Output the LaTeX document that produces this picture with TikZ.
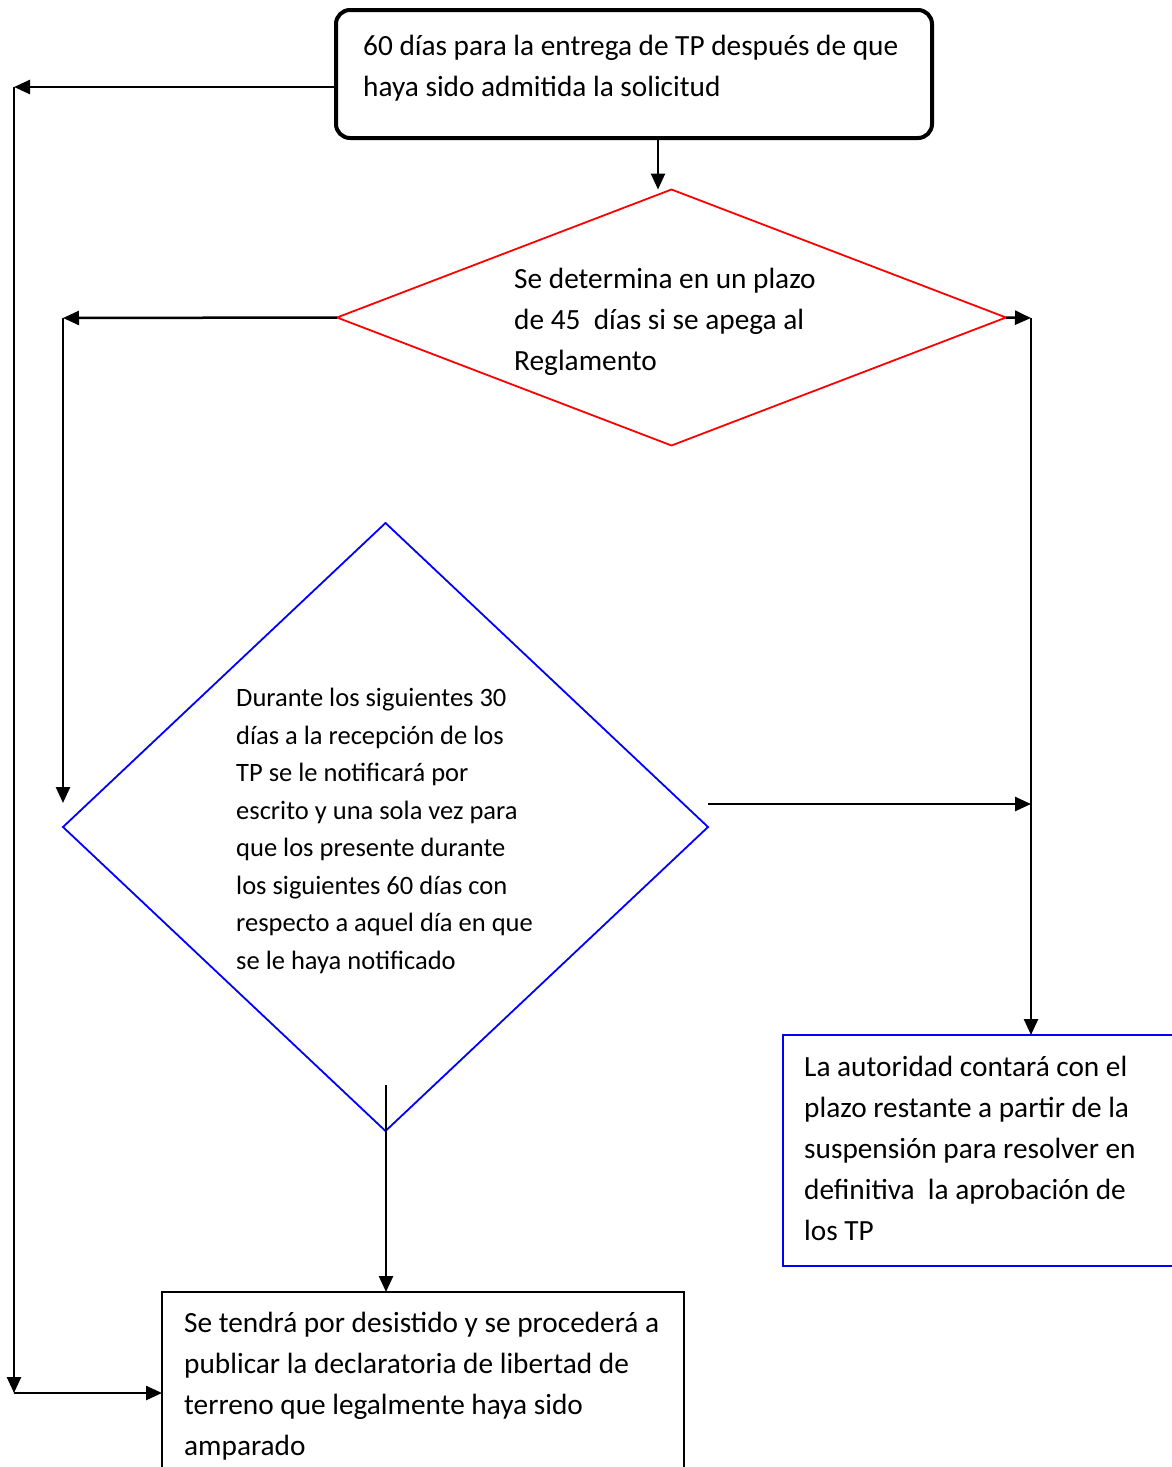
\documentclass[tikz,border=0pt]{standalone}
\usepackage{fontspec}
\setmainfont{Carlito}
\usetikzlibrary{arrows.meta,shapes.geometric}
\begin{document}
\begin{tikzpicture}[x=1pt,y=-1pt,
  arr/.style={line width=2.5pt,-{Triangle[length=16pt,width=14pt]}},
  boxshape/.style={draw,rectangle,inner sep=0pt,outer sep=0pt},
  decshape/.style={draw,diamond,inner sep=0pt,outer sep=0pt,line width=1.8pt},
  bigtext/.style={anchor=base west,inner sep=0pt,align=left,font=\fontsize{29.3}{40.8}\selectfont},
  smalltext/.style={anchor=base west,inner sep=0pt,align=left,font=\fontsize{26.5}{37.5}\selectfont}]
\useasboundingbox (0,0) rectangle (1172,1467);
\clip (0,0) rectangle (1172,1467);
\fill[white] (0,0) rectangle (1172,1467);

% shapes
\node[boxshape,line width=4pt,rounded corners=14pt,minimum width=596pt,minimum height=128pt] (top) at (634,74) {};
\node[decshape,draw=red,minimum width=669pt,minimum height=256pt] (dec1) at (671.5,317.5) {};
\node[decshape,draw=blue,minimum width=645pt,minimum height=608pt] (dec2) at (385.5,827) {};
\node[boxshape,line width=2.2pt,minimum width=522pt,minimum height=230pt] (bot) at (423,1407) {};
\node[boxshape,draw=blue,line width=2.6pt,minimum width=402pt,minimum height=231pt] (res) at (984,1150.5) {};

% texts (anchored at the baseline of their last line)
\node[bigtext] (ttop) at (363,96.5) {60 días para la entrega de TP después de que\\haya sido admitida la solicitud};
\node[bigtext] (tdec1) at (514,370) {Se determina en un plazo\\de 45\ \ días si se apega al\\Reglamento};
\node[smalltext] (tdec2) at (236,969) {Durante los siguientes 30\\días a la recepción de los\\TP se le notificará por\\escrito y una sola vez para\\que los presente durante\\los siguientes 60 días con\\respecto a aquel día en que\\se le haya notificado};
\node[bigtext] (tres) at (804,1240) {La autoridad contará con el\\plazo restante a partir de la\\suspensión para resolver en\\definitiva\ \ la aprobación de\\los TP};
\node[bigtext] (tbot) at (184,1455) {Se tendrá por desistido y se procederá a\\publicar la declaratoria de libertad de\\terreno que legalmente haya sido\\amparado};

% junction coordinates
\coordinate (c1) at (658,188);
\coordinate (L1) at (14,87);
\coordinate (L2) at (14,1393);
\coordinate (M1) at (63,318);
\coordinate (M2) at (63,803);
\coordinate (R1) at (1031,318);
\coordinate (B1) at (708,804);
\coordinate (D1) at (386,1085);

% connectors
\draw[arr] (top.south -| c1) -- (c1 |- dec1.north);
\draw[arr] (top.west |- L1) -- (L1);
\draw[arr] (L1) -- (L2);
\draw[arr] (L2) -- (bot.west |- L2);
\draw[arr] (dec1.west) -- (M1);
\draw[arr] (M1) -- (M2);
\draw[arr] (dec1.east) -- (R1);
\draw[arr] (R1) -- (R1 |- res.north);
\draw[arr] (dec2.east |- B1) -- (R1 |- B1);
\draw[arr] (D1) -- (D1 |- bot.north);
\end{tikzpicture}
\end{document}
